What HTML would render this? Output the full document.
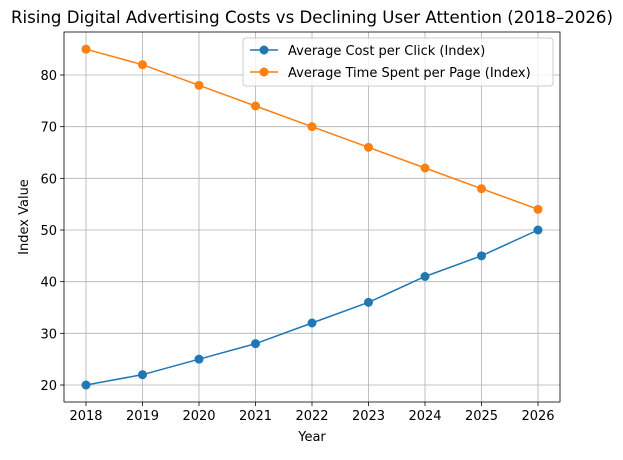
<!DOCTYPE html>
<html><head><meta charset="utf-8"><style>
body{margin:0;background:#fff;font-family:"Liberation Sans","DejaVu Sans",sans-serif;}
svg text{font-family:"DejaVu Sans","Liberation Sans",sans-serif;}
</style></head><body>
<svg id="chart" width="623" height="455" xmlns="http://www.w3.org/2000/svg">
<rect width="623" height="455" fill="#fff"/>
<text x="312" y="23" font-size="16.6" text-anchor="middle">Rising Digital Advertising Costs vs Declining User Attention (2018–2026)</text>
<g id="grid"></g><g id="axes"></g><g id="series"></g>
<text x="312" y="441" font-size="13" text-anchor="middle">Year</text>
<text x="28" y="217" font-size="13" text-anchor="middle" transform="rotate(-90 28 217)">Index Value</text>
<g>
<rect x="243" y="38" width="310" height="48" fill="#fff" fill-opacity="0.8" stroke="#ccc" rx="3"/>
<g><line x1="250" y1="50" x2="278" y2="50" stroke="#1f77b4" stroke-width="1.5"/><circle cx="264" cy="50" r="4.5" fill="#1f77b4"/><text x="288" y="55" font-size="13">Average Cost per Click (Index)</text></g>
<g><line x1="250" y1="72" x2="278" y2="72" stroke="#ff7f0e" stroke-width="1.5"/><circle cx="264" cy="72" r="4.5" fill="#ff7f0e"/><text x="288" y="77" font-size="13">Average Time Spent per Page (Index)</text></g>
</g>
</svg>
<script>
const years=[2018,2019,2020,2021,2022,2023,2024,2025,2026];
const cpc=[20,22,25,28,32,36,41,45,50];
const timeSpent=[85,82,78,74,70,66,62,58,54];
const yTicks=[20,30,40,50,60,70,80];
const L=64,R=560,T=32,B=402;
function xs(v){return 86+(v-2018)*(538-86)/8;}
function ys(v){return 385-(v-20)*310/60;}
const NS="http://www.w3.org/2000/svg";
function mk(t,a,p){const e=document.createElementNS(NS,t);for(const k in a)e.setAttribute(k,a[k]);p.appendChild(e);return e;}
const grid=document.getElementById('grid'),axes=document.getElementById('axes'),ser=document.getElementById('series');
years.forEach(y=>{const x=xs(y);
const g=mk('line',{x1:x,x2:x,y1:T,y2:B,stroke:'#b0b0b0','stroke-width':0.8},grid);


mk('line',{x1:x,x2:x,y1:B,y2:B+4,stroke:'#000','stroke-width':0.8},axes);
const t=mk('text',{x:x,y:B+18,'font-size':13,'text-anchor':'middle'},axes);t.textContent=y;

});
yTicks.forEach(v=>{const y=ys(v);
const g=mk('line',{x1:L,x2:R,y1:y,y2:y,stroke:'#b0b0b0','stroke-width':0.8},grid);


mk('line',{x1:L-4,x2:L,y1:y,y2:y,stroke:'#000','stroke-width':0.8},axes);
const t=mk('text',{x:L-7,y:y+5,'font-size':13,'text-anchor':'end'},axes);t.textContent=v;

});
const fr=mk('rect',{x:L,y:T,width:R-L,height:B-T,fill:'none',stroke:'#000','stroke-width':0.8},axes);


function draw(vals,c,name){
const pl=mk('polyline',{points:vals.map((v,i)=>xs(years[i])+','+ys(v)).join(' '),fill:'none',stroke:c,'stroke-width':1.5},ser);


vals.forEach((v,i)=>{const p=mk('circle',{cx:xs(years[i]),cy:ys(v),r:4.5,fill:c},ser);

});}
draw(cpc,'#1f77b4','cpc');
draw(timeSpent,'#ff7f0f','time-spent');
</script>
</body></html>
